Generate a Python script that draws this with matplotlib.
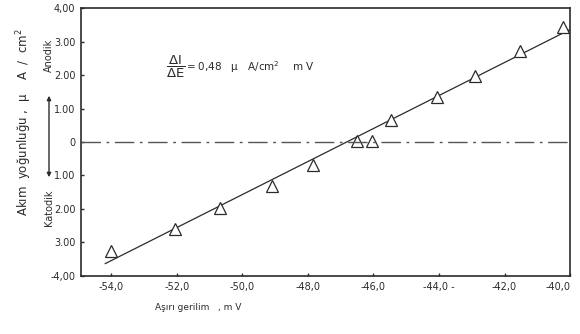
import matplotlib
matplotlib.use("Agg")
import matplotlib.pyplot as plt

# Data
overpotential = [-54.0, -52.05, -50.68, -49.09, -47.84, -46.5, -46.04, -45.46, -44.06, -42.9, -41.53, -40.22]
current_density = [-3.24, -2.59, -1.96, -1.31, -0.68, 0.03, 0.03, 0.65, 1.34, 1.96, 2.71, 3.42]
fit_x = [-54.18, -40.0]
fit_y = [-3.63, 3.36]
x_ticks = [-54.0, -52.0, -50.0, -48.0, -46.0, -44.0, -42.0, -40.0]
x_tick_labels = ["-54,0", "-52,0", "-50,0", "-48,0", "-46,0", "-44,0 -", "-42,0", "-40,0"]
y_ticks = [4, 3, 2, 1, 0, -1, -2, -3, -4]
y_tick_labels = ["4,00", "3.00", "2.00", "1.00", "0", "1.00", "2.00", "3.00", "-4,00"]

ink = "#2b2b2b"
plt.rcParams['font.family'] = ['DejaVu Sans']
plt.rcParams['mathtext.default'] = 'regular'

fig = plt.figure(figsize=(5.8, 3.34), dpi=100)
ax = fig.add_axes([0.1397, 0.1737, 0.8433, 0.8023])

ax.plot(fit_x, fit_y, color=ink, lw=0.9)
ax.plot(overpotential, current_density, linestyle='none', marker='^', ms=8,
        mfc='white', mec=ink, mew=0.9)
ax.axhline(0, color='#555555', lw=1.0, dashes=(14, 4, 2, 4))

ax.set_xlim(-54.92, -40.0)
ax.set_ylim(-4, 4)
ax.set_xticks(x_ticks)
ax.set_xticklabels(x_tick_labels)
ax.set_yticks(y_ticks)
ax.set_yticklabels(y_tick_labels)
ax.tick_params(axis='both', direction='in', length=2, width=1, labelsize=7, colors=ink, pad=4)
xl = ax.get_xticklabels()
xl[-1].set_horizontalalignment('right')
for s in ax.spines.values():
    s.set_color(ink)
    s.set_linewidth(1.2)

ax.text(-52.32, 2.25, r"$\dfrac{\Delta I}{\Delta E}$", fontsize=9.5, color=ink,
        va='center', ha='left')
ax.text(-51.72, 2.25, "= 0,48   μ   A/cm$^2$    m V",
        fontsize=7.5, color=ink, va='center', ha='left')

fig.text(198 / 580, 1 - 308 / 334, "Aşırı gerilim   , m V", fontsize=6.5, color=ink,
         ha='center', va='center')

fig.text(24 / 580, 1 - 122 / 334, "Akım  yoğunluğu ,  μ    A  /  cm$^2$", fontsize=8.5, color=ink,
         rotation=90, ha='center', va='center')
fig.text(49 / 580, 1 - 55 / 334, "Anodik", fontsize=7, color=ink, rotation=90,
         ha='center', va='center')
fig.text(49 / 580, 1 - 208 / 334, "Katodik", fontsize=7, color=ink, rotation=90,
         ha='center', va='center')
fig.add_artist(matplotlib.patches.FancyArrowPatch(
    (49 / 580, 1 - 93 / 334), (49 / 580, 1 - 180 / 334), transform=fig.transFigure,
    arrowstyle='<|-|>', mutation_scale=6, color=ink, lw=1.0))

fig.savefig("out.png", dpi=100)
